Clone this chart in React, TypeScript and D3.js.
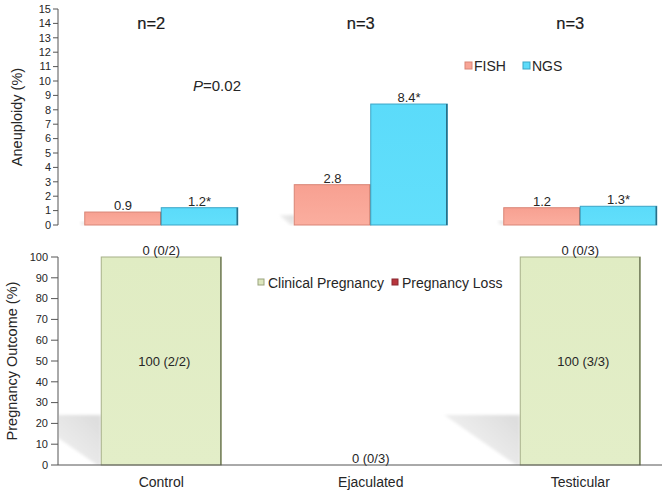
import React from "react";
import * as d3 from "d3";

const categories = ["Control", "Ejaculated", "Testicular"];
const sampleSizes = ["n=2", "n=3", "n=3"];
const fishValues = [0.9, 2.8, 1.2];
const ngsValues = [1.2, 8.4, 1.3];
const fishLabels = ["0.9", "2.8", "1.2"];
const ngsLabels = ["1.2*", "8.4*", "1.3*"];
const clinicalPregnancy = [100, 0, 100];
const pregnancyLoss = [0, 0, 0];
const clinicalLabels = ["100 (2/2)", "", "100 (3/3)"];
const lossLabels = ["0 (0/2)", "0 (0/3)", "0 (0/3)"];
const aneuploidyTicks = d3.range(0, 16);
const outcomeTicks = d3.range(0, 101, 10);
const seriesTop = ["FISH", "NGS"];
const seriesBottom = ["Clinical Pregnancy", "Pregnancy Loss"];

const W = 666;
const H = 494;
const FONT = "'Liberation Sans', Arial, Helvetica, sans-serif";
const TXT = "#262626";

export default function App() {
  const axisX = 58;
  const x = d3.scaleBand().domain(categories).range([56.5, 685]).padding(0);
  const cx = (c: string) => (x(c) as number) + x.bandwidth() / 2;
  const sub = d3.scaleBand().domain(seriesTop).range([-76.5, 76.5]).padding(0);

  const yTop = d3.scaleLinear().domain([0, 15]).range([225, 9]);
  const yBot = d3.scaleLinear().domain([0, 100]).range([465, 257]);
  const botBarW = 120;

  const topColors: Record<string, { fill: string; stroke: string; edge: string; grad: string }> = {
    FISH: { fill: "#F8A596", stroke: "#D98576", edge: "#C07060", grad: "gFish" },
    NGS: { fill: "#5DDCFA", stroke: "#3AA5C6", edge: "#2A6F88", grad: "gNgs" },
  };

  const shadow = (xl: number, base: number, h: number, key: string, clipId: string) => {
    const sh = h * 0.24;
    const sw = h * 0.365;
    const pts = [
      [xl - sw, base - sh],
      [xl, base - sh],
      [xl, base],
      [xl - 4, base],
    ];
    return (
      <g key={key} clipPath={`url(#${clipId})`}>
        <polygon
          points={pts.map((p) => p.join(",")).join(" ")}
          fill="url(#gShadow)"
          filter="url(#blur)"
        />
      </g>
    );
  };

  return (
    <svg
      width={W}
      height={H}
      style={{ position: "absolute", left: 0, top: 0, background: "#fff" }}
      fontFamily={FONT}
    >
      <defs>
        <filter id="blur" x="-20%" y="-20%" width="140%" height="140%">
          <feGaussianBlur stdDeviation="1.5" />
        </filter>
        <linearGradient id="gShadow" x1="1" y1="0.2" x2="0" y2="0.9">
          <stop offset="0" stopColor="#dedede" />
          <stop offset="0.5" stopColor="#ebebeb" />
          <stop offset="1" stopColor="#fbfbfb" />
        </linearGradient>
        <linearGradient id="gFish" x1="0" y1="0" x2="0" y2="1">
          <stop offset="0" stopColor="#F7A091" />
          <stop offset="1" stopColor="#FBAE9F" />
        </linearGradient>
        <linearGradient id="gNgs" x1="0" y1="0" x2="0" y2="1">
          <stop offset="0" stopColor="#5BDBFA" />
          <stop offset="1" stopColor="#62DFFB" />
        </linearGradient>
        <linearGradient id="gGreen" x1="0" y1="0" x2="0" y2="1">
          <stop offset="0" stopColor="#E0ECC3" />
          <stop offset="1" stopColor="#E3EEC8" />
        </linearGradient>
        <clipPath id="clipTop">
          <rect x={axisX + 1} y={0} width={W} height={226} />
        </clipPath>
        <clipPath id="clipBot">
          <rect x={axisX + 1} y={240} width={W} height={225} />
        </clipPath>
      </defs>

      {/* ---------- TOP CHART ---------- */}
      {categories.map((c, i) => {
        const xl = cx(c) + (sub("FISH") as number);
        const h = yTop(0) - yTop(fishValues[i]);
        return shadow(xl, yTop(0), h, "ts" + i, "clipTop");
      })}
      {categories.map((c, i) =>
        seriesTop.map((s) => {
          const v = s === "FISH" ? fishValues[i] : ngsValues[i];
          const lab = s === "FISH" ? fishLabels[i] : ngsLabels[i];
          const col = topColors[s];
          const x0 = cx(c) + (sub(s) as number);
          const bw = sub.bandwidth();
          const yt = yTop(v);
          const hb = yTop(0) - yt;
          return (
            <g key={c + s}>
              <rect x={x0} y={yt} width={bw} height={hb} fill={`url(#${col.grad})`} stroke={col.stroke} strokeWidth={1} />
              <line x1={x0 + bw - 0.5} x2={x0 + bw - 0.5} y1={yt} y2={yTop(0)} stroke={col.edge} strokeWidth={1.5} />
              <text x={x0 + bw / 2} y={yt - 2} textAnchor="middle" fontSize={13} fill={TXT}>
                {lab}
              </text>
            </g>
          );
        })
      )}

      {/* top y axis */}
      <line x1={axisX} x2={axisX} y1={yTop(15)} y2={yTop(0)} stroke="#555" strokeWidth={1} />
      {aneuploidyTicks.map((t) => (
        <g key={"ta" + t}>
          <line x1={axisX - 5} x2={axisX} y1={yTop(t)} y2={yTop(t)} stroke="#555" />
          <text x={axisX - 7} y={yTop(t)} dy="0.35em" textAnchor="end" fontSize={11} fill={TXT}>
            {t}
          </text>
        </g>
      ))}
      <text
        transform={`translate(${17},${(yTop(0) + yTop(15)) / 2}) rotate(-90)`}
        textAnchor="middle"
        dy="0.35em"
        fontSize={14.5}
        fill={TXT}
      >
        Aneuploidy (%)
      </text>

      {/* n labels */}
      {categories.map((c, i) => (
        <text key={"n" + c} x={cx(c) - 10} y={29} textAnchor="middle" fontSize={16.5} fill="#1a1a1a" stroke="#1a1a1a" strokeWidth={0.2}>
          {sampleSizes[i]}
        </text>
      ))}

      <text x={193} y={91} fontSize={15} fill={TXT}>
        <tspan fontStyle="italic">P</tspan>=0.02
      </text>

      {/* top legend */}
      {seriesTop.map((s, i) => {
        const lx = 465 + i * 58;
        const col = topColors[s];
        return (
          <g key={"lt" + s}>
            <rect x={lx} y={62} width={7} height={7} fill={col.fill} stroke={col.stroke} strokeWidth={1} />
            <text x={lx + 9} y={66} dy="0.35em" fontSize={14} fill={TXT}>
              {s}
            </text>
          </g>
        );
      })}

      {/* ---------- BOTTOM CHART ---------- */}
      {categories.map((c, i) => {
        const h = yBot(0) - yBot(clinicalPregnancy[i]);
        if (h <= 0) return null;
        return shadow(cx(c) - botBarW / 2, yBot(0), h, "bs" + i, "clipBot");
      })}
      {categories.map((c, i) => {
        const x0 = cx(c) - botBarW / 2;
        const v = clinicalPregnancy[i];
        const yt = yBot(v);
        const hb = yBot(0) - yt;
        const topStack = yBot(clinicalPregnancy[i] + pregnancyLoss[i]);
        return (
          <g key={"b" + c}>
            {hb > 0 && (
              <>
                <rect x={x0} y={yt} width={botBarW} height={hb} fill="url(#gGreen)" stroke="#A6B088" strokeWidth={1} />
                <line x1={x0 + botBarW - 0.5} x2={x0 + botBarW - 0.5} y1={yt} y2={yBot(0)} stroke="#7E8866" strokeWidth={1.5} />
              </>
            )}
            {pregnancyLoss[i] > 0 && (
              <rect x={x0} y={topStack} width={botBarW} height={yt - topStack} fill="#B8353D" />
            )}
            {clinicalLabels[i] && hb > 0 && (
              <text x={cx(c) + 3} y={yBot(v / 2)} dy="0.35em" textAnchor="middle" fontSize={13} fill={TXT}>
                {clinicalLabels[i]}
              </text>
            )}
            <text x={cx(c)} y={topStack - 2.5} textAnchor="middle" fontSize={13} fill={TXT}>
              {lossLabels[i]}
            </text>
          </g>
        );
      })}

      {/* bottom axes */}
      <line x1={axisX} x2={axisX} y1={yBot(100)} y2={yBot(0)} stroke="#555" strokeWidth={1} />
      <line x1={axisX} x2={662} y1={yBot(0)} y2={yBot(0)} stroke="#555" strokeWidth={1} />
      {outcomeTicks.map((t) => (
        <g key={"tb" + t}>
          <line x1={axisX - 7} x2={axisX} y1={yBot(t)} y2={yBot(t)} stroke="#555" />
          <text x={axisX - 10} y={yBot(t)} dy="0.35em" textAnchor="end" fontSize={11} fill={TXT}>
            {t}
          </text>
        </g>
      ))}
      <text
        transform={`translate(${12},${(yBot(0) + yBot(100)) / 2}) rotate(-90)`}
        textAnchor="middle"
        dy="0.35em"
        fontSize={14.5}
        fill={TXT}
      >
        Pregnancy Outcome (%)
      </text>
      {categories.map((c) => (
        <text key={"cl" + c} x={cx(c)} y={482} dy="0.35em" textAnchor="middle" fontSize={14} fill={TXT}>
          {c}
        </text>
      ))}

      {/* bottom legend */}
      {seriesBottom.map((s, i) => {
        const lx = i === 0 ? 258 : 392;
        return (
          <g key={"lb" + s}>
            <rect
              x={lx}
              y={279}
              width={6}
              height={6}
              fill={i === 0 ? "#DCE6BE" : "#B8353D"}
              stroke={i === 0 ? "#9AA37E" : "#8A2830"}
              strokeWidth={1}
            />
            <text x={lx + 10} y={283} dy="0.35em" fontSize={14} fill={TXT}>
              {s}
            </text>
          </g>
        );
      })}
    </svg>
  );
}
